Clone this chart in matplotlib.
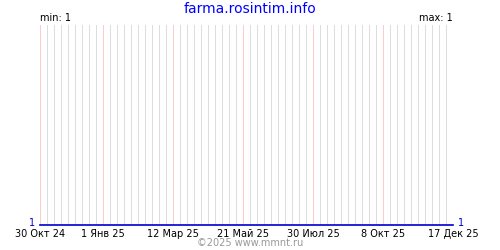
import datetime as dt
import matplotlib
matplotlib.use("Agg")
import matplotlib.pyplot as plt

# data
dates = ["2024-10-30", "2025-12-17"]
values = [1, 1]
tick_dates = ["2024-10-30", "2025-01-01", "2025-03-12", "2025-05-21",
              "2025-07-30", "2025-10-08", "2025-12-17"]
tick_labels = ["30 Окт 24", "1 Янв 25", "12 Мар 25", "21 Май 25",
               "30 Июл 25", "8 Окт 25", "17 Дек 25"]
title = "farma.rosintim.info"
min_label = "min: 1"
max_label = "max: 1"
footer = "©2025 www.mmnt.ru"

d = [dt.date.fromisoformat(s) for s in dates]
td = [dt.date.fromisoformat(s) for s in tick_dates]

fig = plt.figure(figsize=(5, 2.5), dpi=100)
ax = fig.add_axes([0.08, 0.1, 0.826, 0.8])

start, end = d[0], d[-1]
ax.set_xlim(start, end)
ax.set_ylim(1, 2)

# weekly gray grid lines
wk = start
while wk <= end:
    ax.axvline(wk, color="#dddddd", lw=0.5, zorder=1, antialiased=False)
    wk += dt.timedelta(days=7)
# pink lines at tick positions
for t in td:
    ax.axvline(t, color="#ffcccc", lw=0.5, zorder=2, antialiased=False)

ax.plot(d, values, color="#0000cc", lw=1.2, zorder=3, clip_on=False)

ax.set_xticks(td)
ax.set_xticklabels(tick_labels, fontsize=7)
ax.tick_params(axis="x", length=0, pad=3)
ax.set_yticks([])
for s in ax.spines.values():
    s.set_visible(False)

fig.text(0.5, 0.965, title, ha="center", va="center", color="#0000ff", fontsize=10)
ax.text(0.0, 1.01, min_label, transform=ax.transAxes, ha="left", va="bottom", fontsize=7)
ax.text(1.0, 1.01, max_label, transform=ax.transAxes, ha="right", va="bottom", fontsize=7)
ax.text(-0.012, 0.012, str(values[0]), transform=ax.transAxes, ha="right", va="center",
        color="#0000cc", fontsize=7)
ax.text(1.012, 0.012, str(values[-1]), transform=ax.transAxes, ha="left", va="center",
        color="#0000cc", fontsize=7)
fig.text(0.5, 0.028, footer, ha="center", va="center", color="#999999", fontsize=7)

fig.savefig("out.png", dpi=100)
